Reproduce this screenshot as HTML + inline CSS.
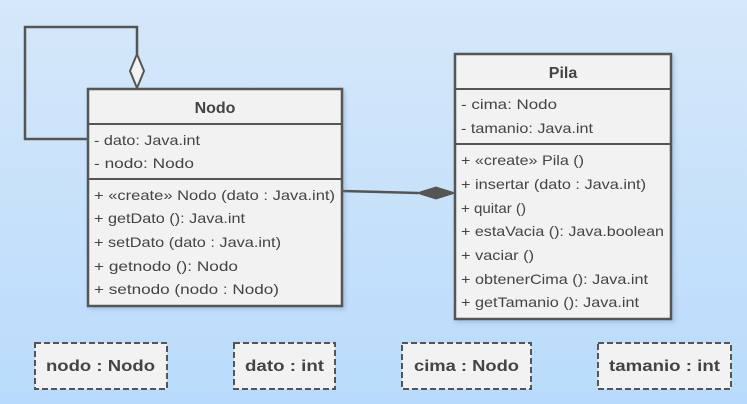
<!DOCTYPE html>
<html><head><meta charset="utf-8"><style>
html,body{margin:0;padding:0;width:747px;height:404px;overflow:hidden}
svg{display:block}
text{font-family:"Liberation Sans","DejaVu Sans",sans-serif;font-size:14px;fill:#444}
.b{font-weight:bold;font-size:16px;fill:#444}
.s{font-weight:bold;font-size:16px;fill:#444}
</style></head><body>
<svg width="747" height="404" viewBox="0 0 747 404">
<defs><linearGradient id="bg" x1="0" y1="0" x2="0" y2="1">
<stop offset="0" stop-color="#d6e8fa"/><stop offset="1" stop-color="#b9dbfb"/></linearGradient>
<filter id="sh" x="-10%" y="-10%" width="130%" height="130%"><feDropShadow dx="2" dy="2" stdDeviation="2" flood-color="#7090b0" flood-opacity="0.4"/></filter></defs>
<rect width="747" height="404" fill="url(#bg)"/>
<polyline points="88,139 25,139 25,27 137,27 137,54" fill="none" stroke="#555" stroke-width="2.5"/>
<polygon points="137,54 144,71 137,88 130,71" fill="#f2f2f2" stroke="#555" stroke-width="2"/>
<line x1="342" y1="191" x2="418" y2="193" stroke="#555" stroke-width="2.5"/>
<polygon points="417,193 436,187 455,193 436,199" fill="#555" stroke="#555" stroke-width="1"/>
<g filter="url(#sh)"><rect x="88" y="89" width="254" height="217" fill="#f2f2f2" stroke="#555" stroke-width="2.5"/></g>
<line x1="88" y1="124" x2="342" y2="124" stroke="#555" stroke-width="2"/>
<line x1="88" y1="179" x2="342" y2="179" stroke="#555" stroke-width="2"/>
<text class="b" x="215" y="113" text-anchor="middle">Nodo</text>
<text x="94" y="145" textLength="106" lengthAdjust="spacingAndGlyphs">- dato: Java.int</text>
<text x="94" y="168" textLength="100" lengthAdjust="spacingAndGlyphs">- nodo: Nodo</text>
<text x="94" y="200" textLength="241" lengthAdjust="spacingAndGlyphs">+ «create» Nodo (dato : Java.int)</text>
<text x="94" y="223" textLength="151" lengthAdjust="spacingAndGlyphs">+ getDato (): Java.int</text>
<text x="94" y="247" textLength="187" lengthAdjust="spacingAndGlyphs">+ setDato (dato : Java.int)</text>
<text x="94" y="271" textLength="144" lengthAdjust="spacingAndGlyphs">+ getnodo (): Nodo</text>
<text x="94" y="294" textLength="185" lengthAdjust="spacingAndGlyphs">+ setnodo (nodo : Nodo)</text>
<g filter="url(#sh)"><rect x="455" y="54" width="216" height="265" fill="#f2f2f2" stroke="#555" stroke-width="2.5"/></g>
<line x1="455" y1="89" x2="671" y2="89" stroke="#555" stroke-width="2"/>
<line x1="455" y1="144" x2="671" y2="144" stroke="#555" stroke-width="2"/>
<text class="b" x="563" y="78" text-anchor="middle">Pila</text>
<text x="461" y="109" textLength="96" lengthAdjust="spacingAndGlyphs">- cima: Nodo</text>
<text x="461" y="133" textLength="132" lengthAdjust="spacingAndGlyphs">- tamanio: Java.int</text>
<text x="461" y="165" textLength="123" lengthAdjust="spacingAndGlyphs">+ «create» Pila ()</text>
<text x="461" y="189" textLength="185" lengthAdjust="spacingAndGlyphs">+ insertar (dato : Java.int)</text>
<text x="461" y="213" textLength="65" lengthAdjust="spacingAndGlyphs">+ quitar ()</text>
<text x="461" y="236" textLength="203" lengthAdjust="spacingAndGlyphs">+ estaVacia (): Java.boolean</text>
<text x="461" y="260" textLength="73" lengthAdjust="spacingAndGlyphs">+ vaciar ()</text>
<text x="461" y="284" textLength="187" lengthAdjust="spacingAndGlyphs">+ obtenerCima (): Java.int</text>
<text x="461" y="307" textLength="178" lengthAdjust="spacingAndGlyphs">+ getTamanio (): Java.int</text>
<g fill="#f2f2f2" stroke="#555" stroke-width="2" stroke-dasharray="6,3">
<rect x="35" y="343" width="132" height="46"/>
<rect x="234" y="343" width="101" height="46"/>
<rect x="402" y="343" width="129" height="46"/>
<rect x="598" y="343" width="133" height="46"/>
</g>
<text class="s" x="46" y="371" textLength="109" lengthAdjust="spacingAndGlyphs">nodo : Nodo</text>
<text class="s" x="245" y="371" textLength="79" lengthAdjust="spacingAndGlyphs">dato : int</text>
<text class="s" x="414" y="371" textLength="105" lengthAdjust="spacingAndGlyphs">cima : Nodo</text>
<text class="s" x="609" y="371" textLength="111" lengthAdjust="spacingAndGlyphs">tamanio : int</text>
</svg>
</body></html>
